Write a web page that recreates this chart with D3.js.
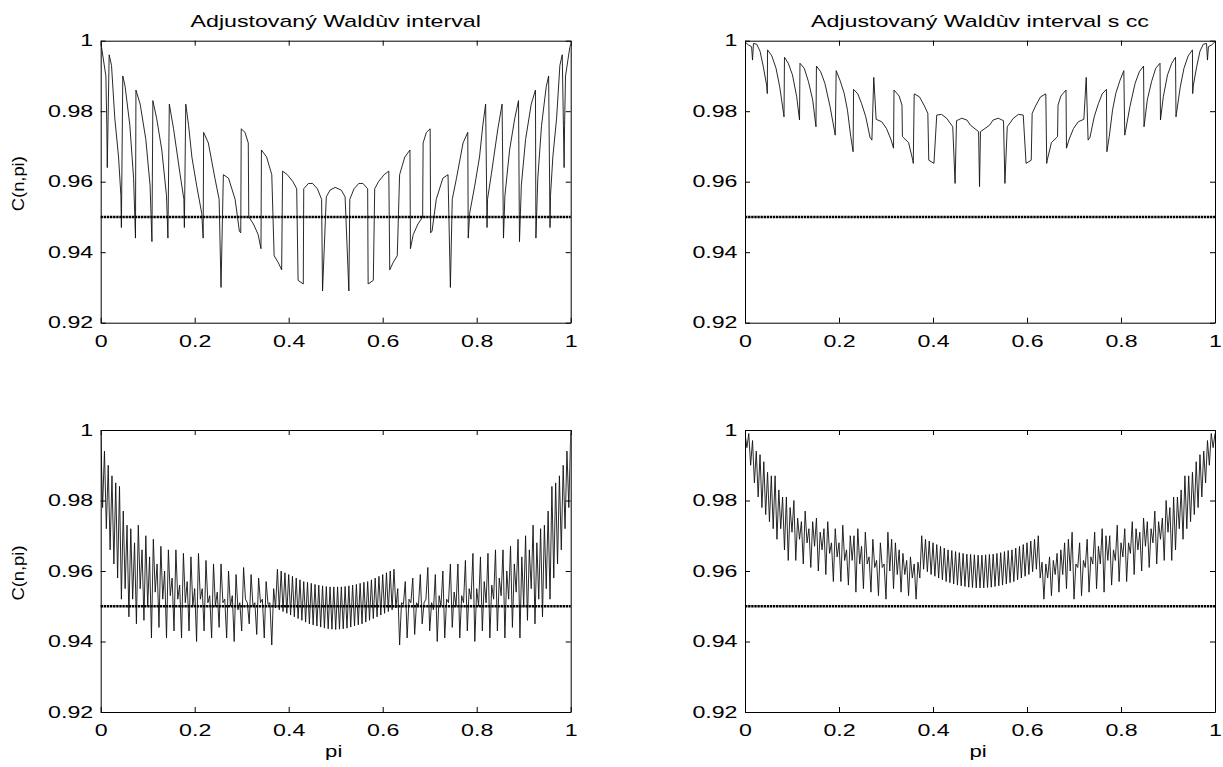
<!DOCTYPE html>
<html>
<head>
<meta charset="utf-8">
<script src="https://cdn.jsdelivr.net/npm/d3@7"></script>
<style>
  body { margin: 0; background: #fff; }
  svg text { font-family: "Liberation Sans", Arial, sans-serif; fill: #000; }
</style>
</head>
<body>
<div id="chart"></div>
<script>
const W = 1223, H = 767;
const SX = 1.45; // the figure's text is stretched sideways

// ---- data ----
const titles = ["Adjustovaný Waldùv interval", "Adjustovaný Waldùv interval s cc"];
const xTicks = [0, 0.2, 0.4, 0.6, 0.8, 1];
const yTicks = [0.92, 0.94, 0.96, 0.98, 1];
const nominal = 0.95;

// top left: adjusted Wald, small n  [pi, C(n,pi)]
const tlData = [[0.000,0.999],[0.002,0.998],[0.011,0.990],[0.013,0.976],[0.014,0.964],[0.018,0.996],[0.023,0.993],[0.030,0.978],[0.038,0.967],[0.043,0.956],[0.044,0.947],[0.047,0.990],[0.052,0.987],[0.062,0.976],[0.070,0.961],[0.074,0.944],[0.075,0.986],[0.084,0.982],[0.096,0.972],[0.105,0.959],[0.109,0.943],[0.111,0.983],[0.119,0.978],[0.130,0.969],[0.140,0.956],[0.143,0.944],[0.146,0.982],[0.155,0.975],[0.169,0.962],[0.177,0.955],[0.178,0.947],[0.181,0.982],[0.187,0.976],[0.194,0.967],[0.204,0.959],[0.215,0.951],[0.218,0.944],[0.219,0.974],[0.229,0.971],[0.243,0.961],[0.252,0.955],[0.256,0.930],[0.261,0.962],[0.272,0.961],[0.286,0.955],[0.295,0.946],[0.298,0.9455],[0.299,0.975],[0.307,0.974],[0.314,0.971],[0.315,0.950],[0.325,0.948],[0.335,0.945],[0.341,0.941],[0.342,0.969],[0.353,0.967],[0.364,0.962],[0.369,0.939],[0.378,0.937],[0.385,0.935],[0.387,0.963],[0.397,0.962],[0.409,0.960],[0.417,0.958],[0.420,0.932],[0.431,0.931],[0.432,0.958],[0.442,0.9595],[0.451,0.9595],[0.461,0.958],[0.470,0.955],[0.472,0.929],[0.480,0.9557],[0.488,0.9576],[0.499,0.9584],
[0.512,0.9576],[0.520,0.9557],[0.528,0.929],[0.530,0.955],[0.539,0.958],[0.549,0.9595],[0.558,0.9595],[0.568,0.958],[0.569,0.931],[0.580,0.932],[0.583,0.958],[0.591,0.960],[0.603,0.962],[0.613,0.963],[0.615,0.935],[0.622,0.937],[0.631,0.939],[0.636,0.962],[0.647,0.967],[0.658,0.969],[0.659,0.941],[0.665,0.945],[0.675,0.948],[0.685,0.950],[0.686,0.971],[0.693,0.974],[0.701,0.975],[0.702,0.9455],[0.705,0.946],[0.714,0.955],[0.728,0.961],[0.739,0.962],[0.744,0.930],[0.748,0.955],[0.757,0.961],[0.771,0.971],[0.781,0.974],[0.782,0.944],[0.785,0.951],[0.796,0.959],[0.806,0.967],[0.813,0.976],[0.819,0.982],[0.822,0.947],[0.823,0.955],[0.831,0.962],[0.845,0.975],[0.854,0.982],[0.857,0.944],[0.860,0.956],[0.870,0.969],[0.881,0.978],[0.889,0.983],[0.891,0.943],[0.895,0.959],[0.904,0.972],[0.916,0.982],[0.925,0.986],[0.926,0.944],[0.930,0.961],[0.938,0.976],[0.948,0.987],[0.953,0.990],[0.956,0.947],[0.957,0.956],[0.962,0.967],[0.970,0.978],[0.977,0.993],[0.982,0.996],[0.986,0.964],[0.987,0.976],[0.989,0.990],[0.998,0.998],[1.000,0.999]];

// top right: adjusted Wald with continuity correction, small n
const trData = [[0.000,0.9997],[0.007,0.9988],[0.014,0.9983],[0.016,0.9945],[0.018,0.9992],[0.025,0.999],[0.032,0.997],[0.039,0.9926],[0.046,0.9874],[0.0475,0.985],[0.048,0.9974],[0.057,0.9957],[0.066,0.9922],[0.074,0.9868],[0.082,0.9794],[0.083,0.9784],[0.084,0.9953],[0.092,0.9936],[0.101,0.9903],[0.110,0.9841],[0.116,0.9775],[0.117,0.9936],[0.126,0.9922],[0.135,0.9884],[0.144,0.9832],[0.151,0.9756],[0.152,0.9928],[0.161,0.9912],[0.170,0.9879],[0.181,0.9813],[0.192,0.9732],[0.194,0.9915],[0.202,0.9888],[0.211,0.9851],[0.218,0.9803],[0.225,0.9728],[0.230,0.9685],[0.231,0.9862],[0.240,0.9849],[0.248,0.9822],[0.257,0.9784],[0.266,0.9726],[0.270,0.9718],[0.274,0.9896],[0.279,0.9777],[0.291,0.977],[0.301,0.9751],[0.311,0.9718],[0.316,0.9695],[0.317,0.986],[0.328,0.9843],[0.334,0.9817],[0.335,0.9728],[0.348,0.9711],[0.357,0.9661],[0.358,0.9652],[0.360,0.9849],[0.371,0.9841],[0.381,0.9817],[0.389,0.9794],[0.391,0.9661],[0.402,0.9652],[0.408,0.9789],[0.418,0.9791],[0.429,0.978],[0.442,0.9756],[0.447,0.9595],[0.450,0.9773],[0.461,0.978],[0.472,0.9775],[0.480,0.976],[0.497,0.9742],[0.499,0.9586],
[0.501,0.9742],[0.520,0.976],[0.528,0.9775],[0.539,0.978],[0.550,0.9773],[0.553,0.9595],[0.558,0.9756],[0.571,0.978],[0.582,0.9791],[0.592,0.9789],[0.598,0.9652],[0.609,0.9661],[0.611,0.9794],[0.619,0.9817],[0.629,0.9841],[0.640,0.9849],[0.642,0.9652],[0.643,0.9661],[0.652,0.9711],[0.665,0.9728],[0.666,0.9817],[0.672,0.9843],[0.683,0.986],[0.684,0.9695],[0.689,0.9718],[0.699,0.9751],[0.709,0.977],[0.721,0.9777],[0.726,0.9896],[0.730,0.9718],[0.734,0.9726],[0.743,0.9784],[0.752,0.9822],[0.760,0.9849],[0.769,0.9862],[0.770,0.9685],[0.775,0.9728],[0.782,0.9803],[0.789,0.9851],[0.798,0.9888],[0.806,0.9915],[0.808,0.9732],[0.819,0.9813],[0.830,0.9879],[0.839,0.9912],[0.848,0.9928],[0.849,0.9756],[0.856,0.9832],[0.865,0.9884],[0.874,0.9922],[0.883,0.9936],[0.884,0.9775],[0.890,0.9841],[0.899,0.9903],[0.908,0.9936],[0.916,0.9953],[0.917,0.9784],[0.918,0.9794],[0.926,0.9868],[0.934,0.9922],[0.943,0.9957],[0.952,0.9974],[0.9525,0.985],[0.954,0.9874],[0.961,0.9926],[0.968,0.997],[0.975,0.999],[0.982,0.9992],[0.984,0.9945],[0.986,0.9983],[0.993,0.9988],[1.000,0.9997]];

// bottom panels: larger n, sampled every 0.004 in pi
const piStep = 0.004;
const blLeft = [0.999,0.978,0.994,0.972,0.990,0.966,0.987,0.962,0.985,0.958,0.984,0.952,0.977,0.955,0.973,0.947,0.972,0.952,0.968,0.945,0.973,0.955,0.966,0.946,0.970,0.950,0.964,0.941,0.969,0.954,0.962,0.944,0.967,0.952,0.960,0.941,0.966,0.953,0.958,0.943,0.966,0.952,0.956,0.941,0.965,0.951,0.957,0.943,0.964,0.950,0.955,0.940,0.965,0.952,0.955,0.943,0.963,0.951,0.953,0.941,0.962,0.950,0.954,0.944,0.962,0.951,0.952,0.941,0.960,0.950,0.953,0.940,0.959,0.949,0.951,0.943,0.961,0.952,0.951,0.945,0.959,0.950,0.951,0.942,0.958,0.951,0.952,0.941,0.957,0.9505,0.951,0.939,0.955,0.9495,0.9605,0.949,0.960,0.9485,0.9595,0.948,0.959,0.9475,0.9585,0.947,0.958,0.9465,0.9575,0.946,0.957,0.9455,0.9568,0.945,0.9565,0.9447,0.9562,0.9444,0.956,0.9441,0.9558,0.9438,0.9556,0.9436,0.9555,0.9435,0.9555,0.9434];
const blRight = [0.9555,0.9435,0.9555,0.9436,0.9556,0.9438,0.9558,0.9441,0.956,0.9444,0.9562,0.9447,0.9565,0.945,0.9568,0.9455,0.957,0.946,0.9575,0.9465,0.958,0.947,0.9585,0.9475,0.959,0.948,0.9595,0.9485,0.960,0.949,0.9605,0.9495,0.955,0.939,0.951,0.9505,0.957,0.941,0.952,0.951,0.958,0.942,0.951,0.950,0.959,0.945,0.951,0.952,0.961,0.943,0.951,0.949,0.959,0.940,0.953,0.950,0.960,0.941,0.952,0.951,0.962,0.944,0.954,0.950,0.962,0.941,0.953,0.951,0.963,0.943,0.955,0.952,0.965,0.940,0.955,0.950,0.964,0.943,0.957,0.951,0.965,0.941,0.956,0.952,0.966,0.943,0.958,0.953,0.966,0.941,0.960,0.952,0.967,0.944,0.962,0.954,0.969,0.941,0.964,0.950,0.970,0.946,0.966,0.955,0.973,0.945,0.968,0.952,0.972,0.947,0.973,0.955,0.977,0.952,0.984,0.958,0.985,0.962,0.987,0.966,0.990,0.972,0.994,0.978,0.999];
const brLeft = [0.999,0.995,0.999,0.990,0.997,0.985,0.994,0.981,0.993,0.978,0.991,0.976,0.988,0.974,0.987,0.972,0.987,0.969,0.983,0.972,0.981,0.966,0.981,0.963,0.978,0.971,0.980,0.963,0.975,0.969,0.974,0.962,0.977,0.968,0.972,0.961,0.974,0.967,0.975,0.960,0.971,0.966,0.972,0.959,0.974,0.965,0.968,0.957,0.972,0.964,0.968,0.957,0.973,0.963,0.966,0.956,0.970,0.963,0.970,0.954,0.972,0.962,0.967,0.955,0.971,0.962,0.964,0.954,0.969,0.961,0.963,0.953,0.968,0.961,0.962,0.952,0.971,0.960,0.969,0.955,0.968,0.959,0.966,0.954,0.965,0.959,0.963,0.953,0.964,0.958,0.962,0.952,0.9625,0.958,0.970,0.9605,0.969,0.9598,0.9685,0.959,0.968,0.9585,0.9675,0.958,0.967,0.9575,0.9665,0.957,0.966,0.9567,0.9658,0.9563,0.9655,0.956,0.9652,0.9558,0.965,0.9556,0.9648,0.9554,0.9647,0.9553,0.9646,0.9552,0.9645,0.9552];
const brRight = [0.9645,0.9552,0.9646,0.9553,0.9647,0.9554,0.9648,0.9556,0.965,0.9558,0.9652,0.956,0.9655,0.9563,0.9658,0.9567,0.966,0.957,0.9665,0.9575,0.967,0.958,0.9675,0.9585,0.968,0.959,0.9685,0.9598,0.969,0.9605,0.970,0.958,0.9625,0.952,0.962,0.958,0.964,0.953,0.963,0.959,0.965,0.954,0.966,0.959,0.968,0.955,0.969,0.960,0.971,0.952,0.962,0.961,0.968,0.953,0.963,0.961,0.969,0.954,0.964,0.962,0.971,0.955,0.967,0.962,0.972,0.954,0.970,0.963,0.970,0.956,0.966,0.963,0.973,0.957,0.968,0.964,0.972,0.957,0.968,0.965,0.974,0.959,0.972,0.966,0.971,0.960,0.975,0.967,0.974,0.961,0.972,0.968,0.977,0.962,0.974,0.969,0.975,0.963,0.980,0.971,0.978,0.963,0.981,0.966,0.981,0.972,0.983,0.969,0.987,0.972,0.987,0.974,0.988,0.976,0.991,0.978,0.993,0.981,0.994,0.985,0.997,0.990,0.999,0.995,0.999];

const toPairs = vals => vals.map((v, i) => [i * piStep, v]);
const blData = toPairs(blLeft.concat(blRight));
const brData = toPairs(brLeft.concat(brRight));

// ---- layout ----
const pw = 470, ph = 282;
const panels = [
  { data: tlData, left: 100.7, top: 40.7, title: titles[0], xlab: false },
  { data: trData, left: 745, top: 40.7, title: titles[1], xlab: false },
  { data: blData, left: 100.7, top: 430, title: null, xlab: true },
  { data: brData, left: 745, top: 430, title: null, xlab: true }
];

const svg = d3.select("#chart").append("svg")
  .attr("width", W).attr("height", H);

const x = d3.scaleLinear().domain([0, 1]).range([0, pw]);
const y = d3.scaleLinear().domain([0.92, 1]).range([ph, 0]);
const line = d3.line().x(d => x(d[0])).y(d => y(d[1]));

function stretchText(sel, px) {
  sel.attr("transform", `scale(${SX},1)`).attr("x", px / SX);
}

panels.forEach((p, k) => {
  const g = svg.append("g").attr("transform", `translate(${p.left},${p.top})`);

  g.append("clipPath").attr("id", "clip" + k)
    .append("rect").attr("width", pw).attr("height", ph);

  // data line
  g.append("path")
    .datum(p.data)
    .attr("clip-path", `url(#clip${k})`)
    .attr("fill", "none")
    .attr("stroke", "#111")
    .attr("stroke-width", 0.9)
    .attr("d", line);

  // nominal 0.95 line
  g.append("path")
    .datum([[0, nominal], [1, nominal]])
    .attr("fill", "none")
    .attr("stroke", "#000")
    .attr("stroke-width", 2.6)
    .attr("stroke-dasharray", "2.4,0.7")
    .attr("d", line);

  // axes, MATLAB style ticks inside on all sides
  const xb = g.append("g").attr("transform", `translate(0,${ph})`)
    .call(d3.axisBottom(x).tickValues(xTicks).tickFormat(d3.format("")).tickSize(-5).tickSizeOuter(0).tickPadding(12.5));
  const yl = g.append("g")
    .call(d3.axisLeft(y).tickValues(yTicks).tickFormat(d3.format("")).tickSize(-5).tickSizeOuter(0));
  g.append("g").call(d3.axisTop(x).tickValues(xTicks).tickFormat("").tickSize(-5).tickSizeOuter(0));
  g.append("g").attr("transform", `translate(${pw},0)`)
    .call(d3.axisRight(y).tickValues(yTicks).tickFormat("").tickSize(-5).tickSizeOuter(0));

  g.selectAll(".domain, .tick line").attr("stroke", "#000").attr("stroke-width", 1);
  g.selectAll(".tick text").attr("font-size", 16).attr("fill", "#000")
    .attr("font-family", "Liberation Sans, Arial, sans-serif");
  xb.selectAll(".tick text").attr("transform", `scale(${SX},1)`);
  stretchText(yl.selectAll(".tick text"), -7.5);

  if (p.title) {
    g.append("text")
      .attr("transform", `translate(${pw / 2},${27 - p.top}) scale(${SX},1)`)
      .attr("text-anchor", "middle")
      .style("font-size", "16px")
      .text(p.title);
  }
  if (p.xlab) {
    g.append("text")
      .attr("transform", `translate(${pw / 2 - 2},${ph + 44.5}) scale(1.3,1)`)
      .attr("text-anchor", "middle")
      .style("font-size", "17px")
      .text("pi");
  }
  if (p.left < 200) {
    g.append("text")
      .attr("transform", `translate(${-p.left + 24},${ph / 2 + 2}) rotate(-90)`)
      .attr("text-anchor", "middle")
      .attr("textLength", 55)
      .attr("lengthAdjust", "spacingAndGlyphs")
      .style("font-size", "17px")
      .text("C(n,pi)");
  }
});
</script>
</body>
</html>
